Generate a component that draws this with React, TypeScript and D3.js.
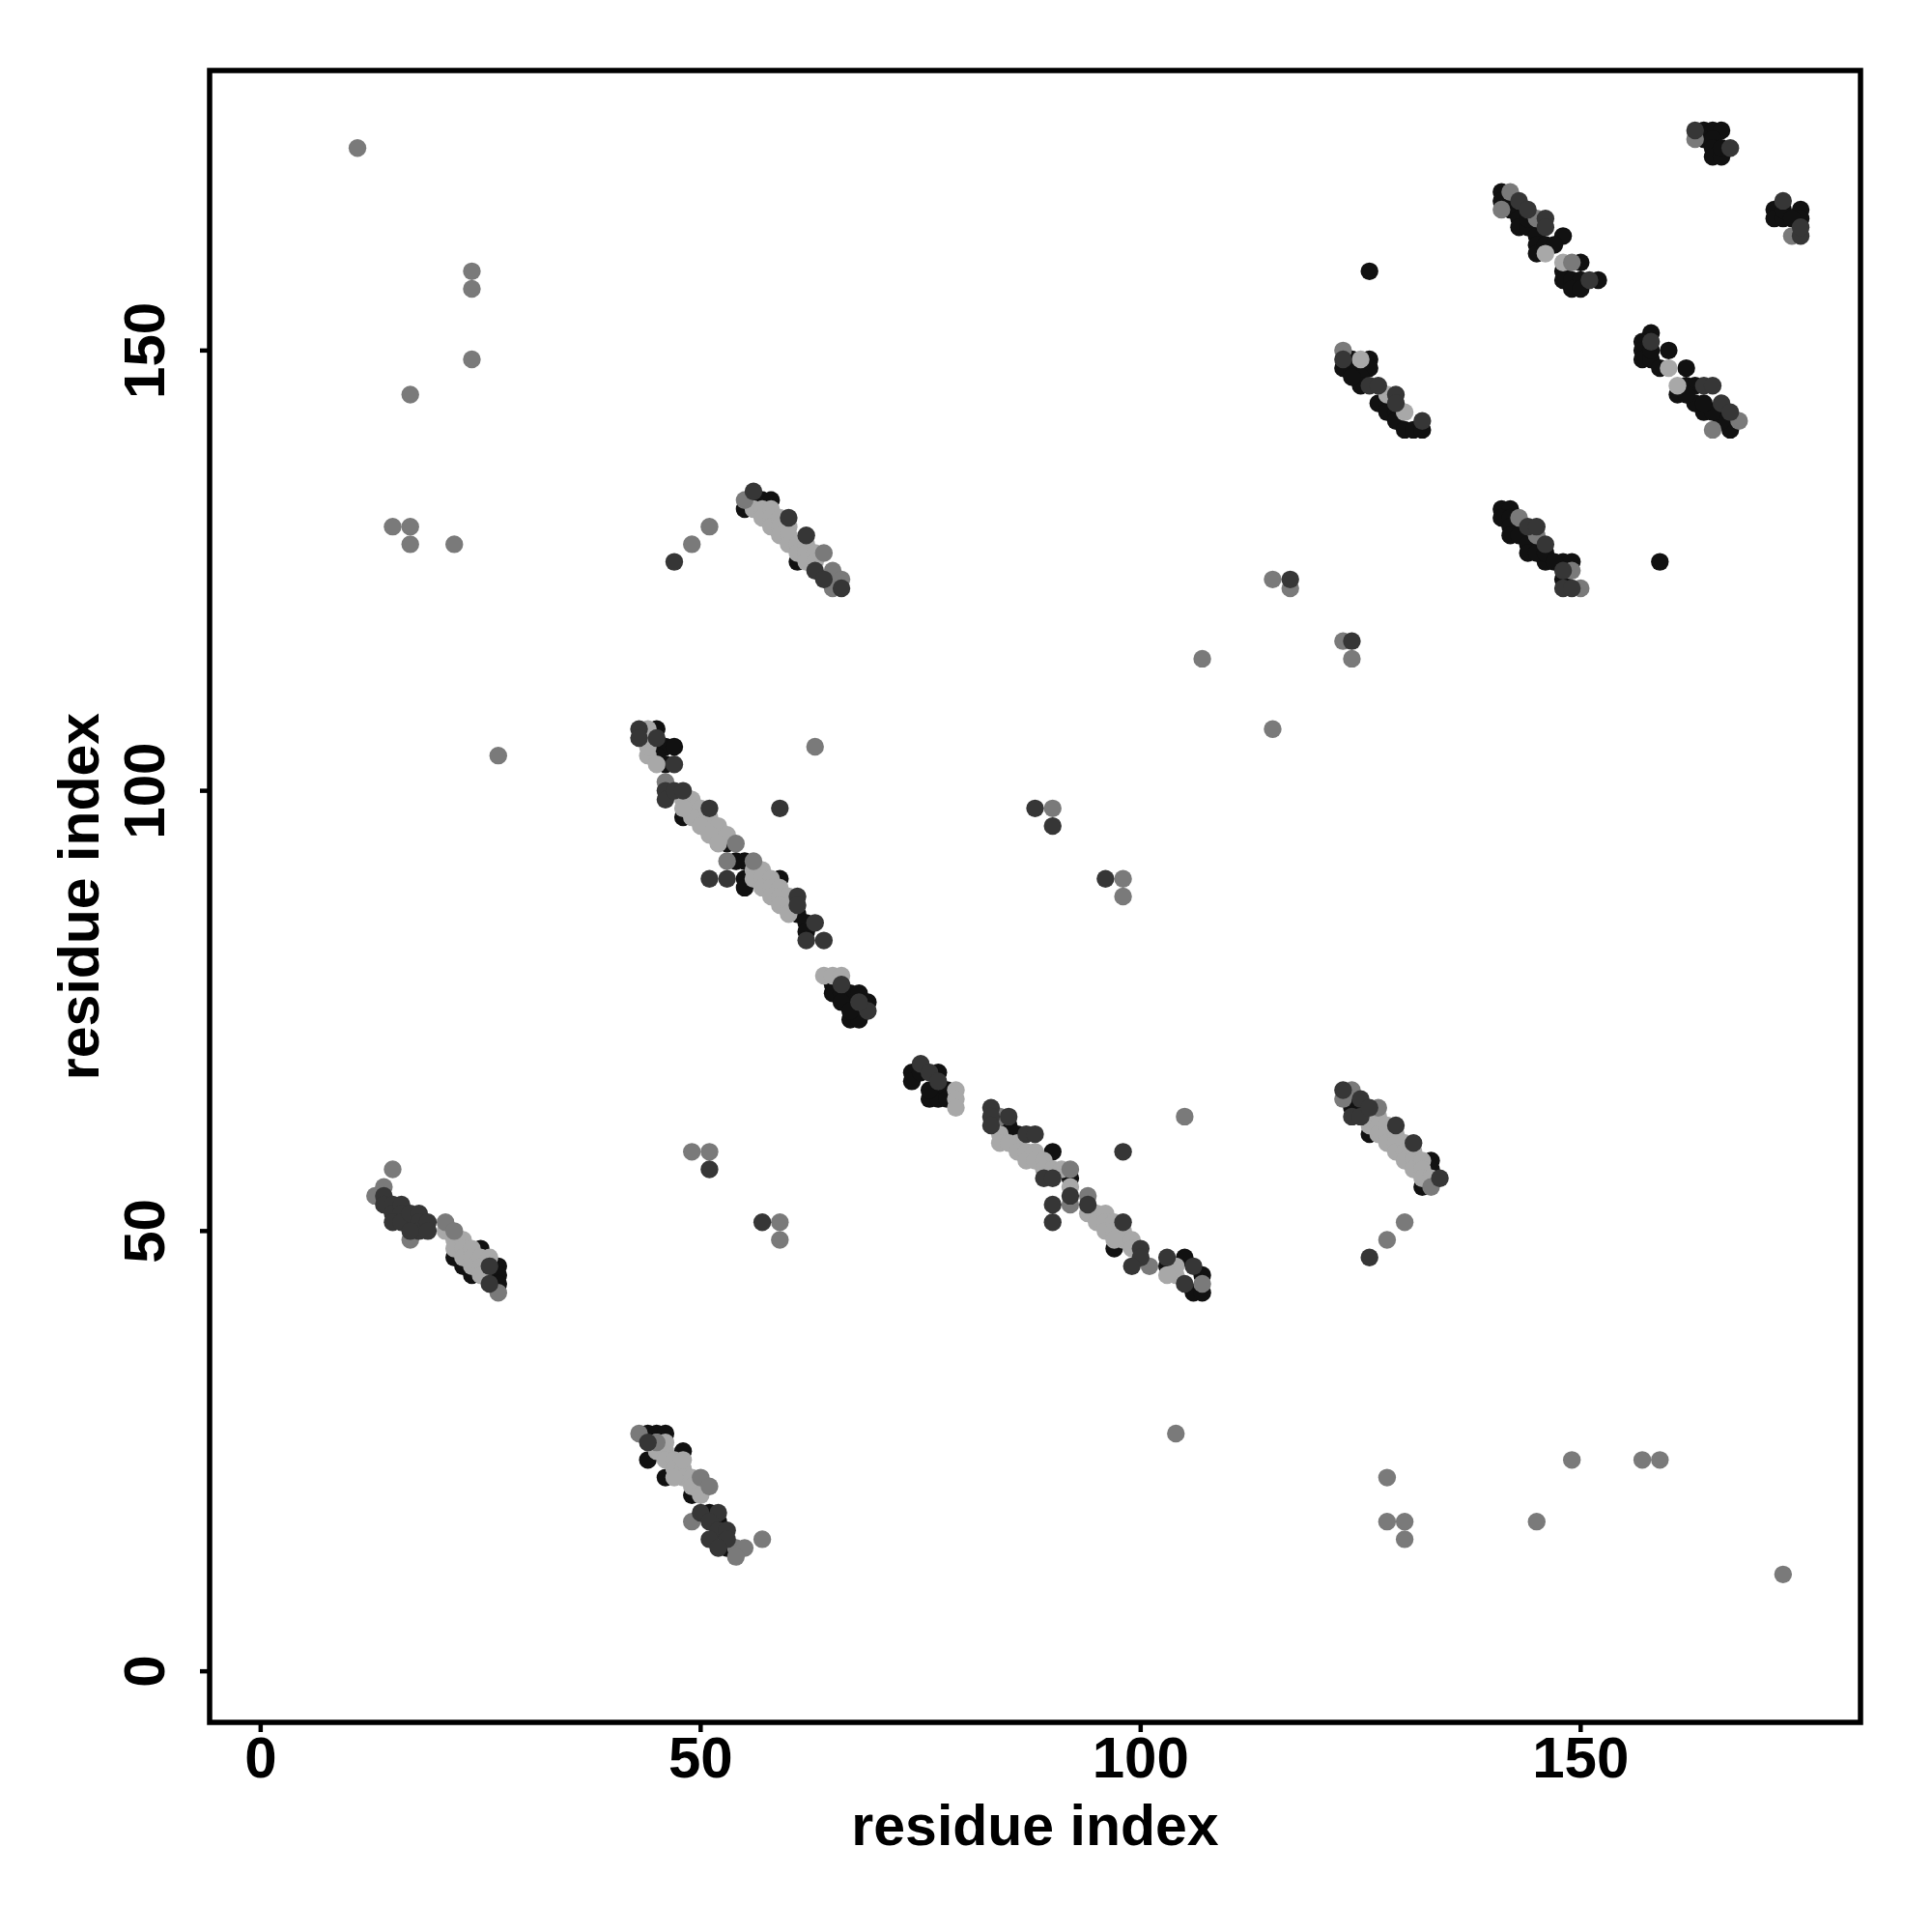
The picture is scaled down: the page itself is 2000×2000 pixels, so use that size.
import React from "react";
import * as d3 from "d3";

// Contact points (residue i, residue j) grouped by shade level
const lightContacts: [number, number][] = [
  [21,50],[22,49],[22,48],[23,49],[23,48],[23,47],[24,48],[24,47],[24,46],[25,47],[25,46],[25,45],[26,47],
  [45,25],[46,25],[46,24],[47,24],[47,23],[48,23],[48,22],[49,22],[49,21],[50,21],[47,22],[45,26],[46,26],[50,20],[48,24],
  [44,107],[44,104],[45,103],[44,105],
  [48,99],[49,99],[49,98],[50,98],[50,97],[51,97],[51,96],[52,96],[52,95],[53,95],[49,97],[48,98],[50,96],[51,95],[52,94],
  [56,91],[57,91],[56,90],[57,90],[58,90],[57,89],[58,89],[59,89],[58,88],[59,88],[60,88],[59,87],[60,87],[60,86],
  [64,79],[65,79],[66,79],
  [79,66],[79,65],[79,64],
  [84,61],[84,60],[85,60],[86,60],[86,59],[87,59],[87,58],[88,59],[88,58],[89,58],[89,57],[90,57],[91,57],[92,55],
  [94,52],[95,52],[95,51],[96,52],[96,51],[96,50],[97,51],[97,50],[98,50],[98,49],[99,49],[99,48],[97,49],
  [104,46],[104,45],[103,45],
  [56,132],[57,132],[57,131],[58,132],[58,131],[58,130],[59,131],[59,130],[59,129],[60,130],[60,129],[60,128],[61,128],[61,127],[62,128],[62,127],[62,126],[63,127],[63,126],
  [126,62],[127,63],[127,62],[127,61],[128,62],[128,61],[128,60],[129,61],[129,60],[129,59],[130,60],[130,59],[130,58],[131,59],[131,58],[131,57],[132,58],[132,57],[132,56],[133,56],
  [125,149],[128,145],[130,143],
  [146,161],[148,160],
  [160,148],[161,146]
];

const midContacts: [number, number][] = [
  [11,173],[24,159],[24,157],[24,149],[17,145],[15,130],[17,130],[17,128],[22,128],[27,104],
  [49,128],[51,130],[63,105],[49,59],[51,59],[59,51],[59,49],[57,15],[104,27],[105,63],
  [90,98],[98,90],[98,88],[107,115],[115,107],[115,124],[117,123],[123,117],[124,115],
  [128,49],[130,51],[128,22],[128,17],[130,17],[130,15],[145,17],[149,24],[157,24],[159,24],[173,11],
  [15,57],[14,55],[13,54],[17,49],[21,51],[22,50],[27,43],
  [43,27],[45,26],[50,22],[51,21],[49,17],[54,14],[55,14],[54,13],
  [46,101],[54,94],[53,92],[56,92],
  [84,63],[92,57],[92,53],[94,54],[101,46],[107,44],
  [55,133],[64,127],[65,125],[65,123],[66,124],
  [124,66],[123,65],[127,64],[133,55],
  [123,150],
  [142,168],[141,166],[145,165],[149,160],
  [168,142],[165,141],
  [143,131],[145,129],[149,125],[150,123],
  [163,174],[174,163]
];

const darkContacts: [number, number][] = [
  [47,126],[59,98],[51,90],[53,90],[51,57],[57,51],[98,59],[88,98],[90,96],[96,90],[117,124],[124,117],[126,47],
  [14,54],[14,53],[15,53],[15,52],[16,53],[16,52],[15,51],[16,51],[17,52],[18,52],[18,51],[18,50],[19,51],[19,50],[17,50],[26,46],[26,44],
  [44,26],[50,18],[52,18],[51,17],[52,16],[53,16],[51,15],[53,15],[52,14],
  [43,107],[43,106],[45,106],[47,103],[46,100],[46,99],[47,100],[48,100],[51,98],[61,88],[61,87],[63,85],[62,83],[64,83],[69,75],[66,78],[68,76],
  [75,69],[76,68],[77,67],[83,64],[83,63],[83,62],[85,63],[87,61],[88,61],[89,56],[90,56],[94,53],[90,53],[90,51],[98,51],[100,48],[100,47],[99,46],[103,47],[106,46],[105,44],[92,54],
  [56,134],[60,131],[62,129],[63,125],[64,124],[66,123],
  [123,66],[125,65],[124,63],[125,63],[126,64],[129,62],[131,60],[134,56],
  [126,146],[127,146],[129,145],[129,144],[132,142],[123,149],
  [143,167],[144,166],[146,165],[146,164],[151,158],
  [158,151],[164,146],[165,146],[166,144],[167,143],
  [144,130],[145,130],[146,128],[148,125],[148,123],[149,123],
  [163,175],[167,173],[173,167],[175,163],[175,164]
];

const blackContacts: [number, number][] = [
  [126,159],[159,126],
  [17,51],[25,48],[22,47],[24,45],[27,46],[27,45],[27,44],[23,46],
  [44,27],[45,27],[46,27],[48,25],[44,24],[46,22],[49,20],[51,18],[52,17],[53,14],
  [45,107],[44,106],[46,105],[47,105],[45,104],[46,103],[48,97],[53,94],[54,92],[55,92],[55,90],[55,89],[59,90],[61,86],[62,85],[62,84],
  [65,78],[65,77],[66,77],[67,77],[68,77],[67,74],[68,74],[66,76],[67,75],[69,76],
  [74,68],[74,67],[75,68],[77,68],[76,65],[77,65],[76,66],[78,66],[78,65],[85,62],[86,61],[90,59],[92,56],[97,48],[103,46],[105,47],[107,45],[106,43],[107,43],
  [55,132],[56,133],[57,133],[58,133],[61,126],
  [124,64],[125,64],[126,61],[133,58],[133,57],[132,55],
  [124,149],[126,149],[123,148],[124,148],[126,148],[125,147],[125,146],[127,144],[128,144],[128,143],[129,143],[129,142],[130,141],[131,141],[132,141],[124,147],
  [141,168],[141,167],[142,166],[143,165],[143,164],[144,164],[145,163],[145,162],[145,161],[146,162],[148,163],[150,160],[148,159],[148,158],[149,158],[150,158],[152,158],[149,157],[150,157],[147,162],[144,165],
  [158,152],[157,151],[157,150],[157,149],[158,149],[158,150],[160,150],[159,148],[162,148],[161,145],[162,146],[163,146],[163,144],[164,143],[167,141],[166,142],[165,143],[162,145],[164,144],
  [141,132],[142,132],[141,131],[142,131],[142,130],[142,129],[143,129],[144,128],[144,127],[146,126],[145,127],[148,126],[149,126],[146,127],[148,124],[147,126],
  [164,175],[165,175],[166,175],[164,174],[165,174],[165,173],[165,172],[166,172],[166,173],[172,166],[172,165],[173,165],[175,166],[175,165],[173,166],[174,165]
];

const xTicks = [0, 50, 100, 150];
const yTicks = [0, 50, 100, 150];
const xLabel = "residue index";
const yLabel = "residue index";

const layers: { data: [number, number][]; color: string }[] = [
  { data: blackContacts, color: "#111111" },
  { data: lightContacts, color: "#a8a8a8" },
  { data: midContacts, color: "#7a7a7a" },
  { data: darkContacts, color: "#363636" },
];

export default function App() {
  const W = 2000, H = 2000;
  const left = 217, right = 1926, top = 73, bottom = 1783;
  const x = d3.scaleLinear().domain([-5.8, 181.8]).range([left, right]);
  const y = d3.scaleLinear().domain([-5.8, 181.8]).range([bottom, top]);
  const font = "'Liberation Sans', Arial, Helvetica, sans-serif";
  return (
    <svg width={W} height={H} style={{ position: "absolute", left: 0, top: 0, background: "#fff" }}>
      <rect x={0} y={0} width={W} height={H} fill="#fff" />
      {layers.map((l, li) => (
        <g key={li} fill={l.color}>
          {l.data.map((d, i) => (
            <circle key={i} cx={x(d[0])} cy={y(d[1])} r={9.2} />
          ))}
        </g>
      ))}
      <rect x={left} y={top} width={right - left} height={bottom - top} fill="none" stroke="#000" strokeWidth={5.5} />
      {xTicks.map((t) => (
        <g key={"x" + t}>
          <line x1={x(t)} x2={x(t)} y1={bottom} y2={bottom + 10} stroke="#000" strokeWidth={4.5} />
          <text x={x(t)} y={1840} textAnchor="middle" fontFamily={font} fontWeight="bold" fontSize={60}>{t}</text>
        </g>
      ))}
      {yTicks.map((t) => (
        <g key={"y" + t}>
          <line x1={left - 10} x2={left} y1={y(t)} y2={y(t)} stroke="#000" strokeWidth={4.5} />
          <text transform={`translate(170,${y(t)}) rotate(-90)`} textAnchor="middle" fontFamily={font} fontWeight="bold" fontSize={60}>{t}</text>
        </g>
      ))}
      <text x={(left + right) / 2} y={1910} textAnchor="middle" fontFamily={font} fontWeight="bold" fontSize={59}>{xLabel}</text>
      <text transform={`translate(102,${(top + bottom) / 2}) rotate(-90)`} textAnchor="middle" fontFamily={font} fontWeight="bold" fontSize={59}>{yLabel}</text>
    </svg>
  );
}
